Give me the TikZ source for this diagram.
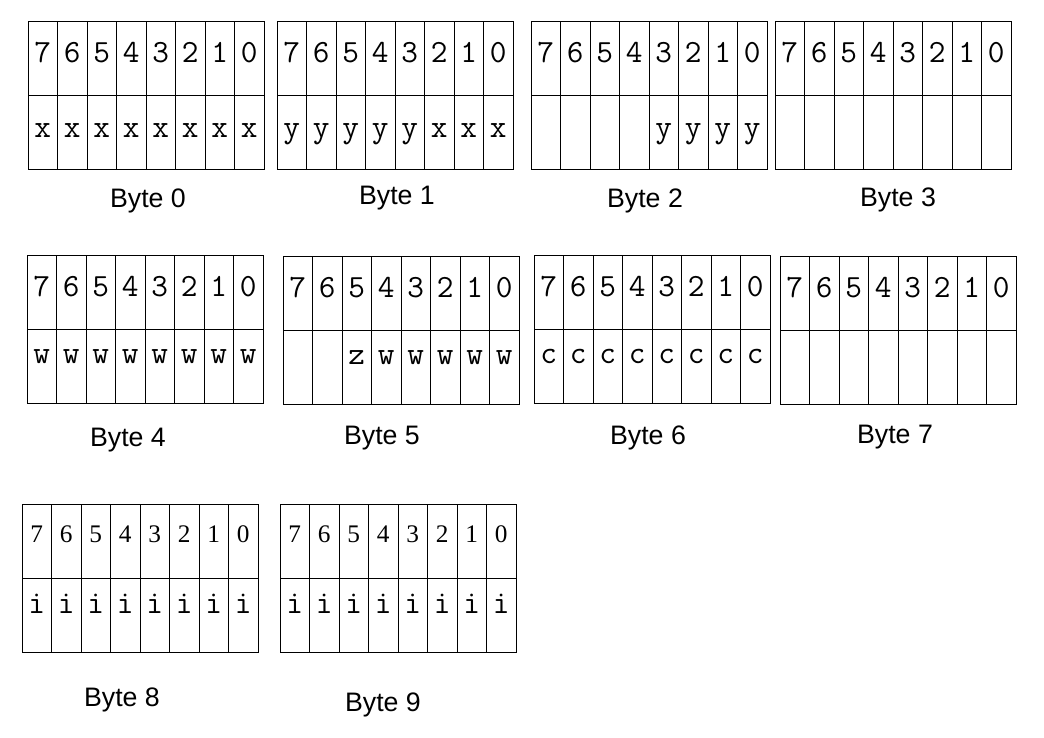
\documentclass[tikz,border=0pt]{standalone}
\usepackage{fontspec}
\newfontfamily\labelfont{Liberation Sans}
\newfontfamily\timesfont{Liberation Serif}
\usepackage{tikz}
\tikzset{
	cellline/.style={line width=0.6pt},
	bitnum/.style={font=\ttfamily\fontsize{23}{25}\selectfont, inner sep=0pt, anchor=base},
	bitnumtm/.style={font=\timesfont\fontsize{18}{20}\selectfont, inner sep=0pt, anchor=base},
	bitval/.style={font=\ttfamily\fontsize{23}{25}\selectfont, inner sep=0pt, anchor=base},
	bytelabel/.style={font=\labelfont\fontsize{19}{21}\selectfont, inner sep=0pt},
}
% grid of one byte: name, top left corner, digit style, digit baseline
\def\bytegrid[#1](#2,#3)#4#5{
	\draw[cellline] (#2,#3) rectangle ++(236,148);
	\draw[cellline] (#2,#3+74) -- ++(236,0);
	\foreach \c in {1,...,7}
		\draw[cellline] (#2+\c*29.5,#3) -- ++(0,148);
	\foreach \b [count=\c from 0] in {7,...,0}
		\node[#4] (#1-n\b) at (#2+\c*29.5+14.75,#3+#5) {\b};
}
% letters of the lower row: name, top left corner, first cell, letters, baseline
\def\bytebits[#1](#2,#3)#4#5#6{
	\foreach \l [count=\c from #4] in {#5}
		\node[bitval] (#1-v\c) at (#2+\c*29.5+14.75,#3+74+#6) {\l};
}

\begin{document}
\begin{tikzpicture}[x=0.025cm, y=-0.025cm]
			%%%%% START %%%%%
			\useasboundingbox (0,0) rectangle (1044,737);
			
			\bytegrid[b0](28,21){bitnum}{41}
			\bytebits[b0](28,21){0}{x,x,x,x,x,x,x,x}{42}
			\node[bytelabel] (lab0) at (148,201) {Byte 0};
			
			\bytegrid[b1](277,21){bitnum}{41}
			\bytebits[b1](277,21){0}{y,y,y,y,y,x,x,x}{42}
			\node[bytelabel] (lab1) at (397,198) {Byte 1};
			
			\bytegrid[b2](531,21){bitnum}{41}
			\bytebits[b2](531,21){4}{y,y,y,y}{42}
			\node[bytelabel] (lab2) at (645,201) {Byte 2};
			
			\bytegrid[b3](775,21){bitnum}{41}
			\node[bytelabel] (lab3) at (898,200) {Byte 3};
			
			\bytegrid[b4](27,255){bitnum}{41}
			\bytebits[b4](27,255){0}{w,w,w,w,w,w,w,w}{34}
			\node[bytelabel] (lab4) at (128,440) {Byte 4};
			
			\bytegrid[b5](283,256){bitnum}{41}
			\bytebits[b5](283,256){2}{z,w,w,w,w,w}{34}
			\node[bytelabel] (lab5) at (382,438) {Byte 5};
			
			\bytegrid[b6](534,255){bitnum}{41}
			\bytebits[b6](534,255){0}{c,c,c,c,c,c,c,c}{34}
			\node[bytelabel] (lab6) at (648,438) {Byte 6};
			
			\bytegrid[b7](780,256){bitnum}{41}
			\node[bytelabel] (lab7) at (895,437) {Byte 7};
			
			\bytegrid[b8](22,504){bitnumtm}{38}
			\bytebits[b8](22,504){0}{i,i,i,i,i,i,i,i}{35}
			\node[bytelabel] (lab8) at (122,700) {Byte 8};
			
			\bytegrid[b9](280,504){bitnumtm}{38}
			\bytebits[b9](280,504){0}{i,i,i,i,i,i,i,i}{35}
			\node[bytelabel] (lab9) at (383,705) {Byte 9};
			
			%%%%% END %%%%%
\end{tikzpicture}
\end{document}
